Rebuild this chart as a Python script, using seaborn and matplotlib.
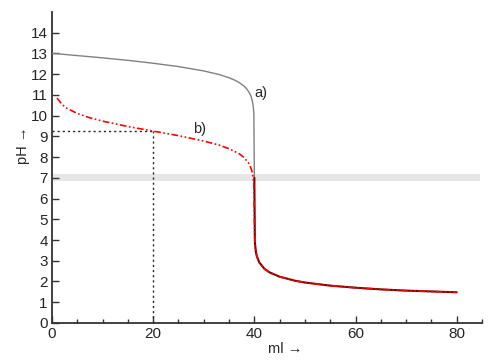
import numpy as np
import pandas as pd
import seaborn as sns
import matplotlib
matplotlib.use("Agg")
import matplotlib.pyplot as plt
from matplotlib.ticker import MultipleLocator

# a) strong base (ml, pH) up to the equivalence point
ml_a = [0, 5, 10, 15, 20, 25, 30, 33, 35, 36, 37, 38, 38.5, 39, 39.3, 39.5, 39.7, 39.8, 39.9, 40]
ph_a = [13.0, 12.89, 12.78, 12.66, 12.52, 12.36, 12.15, 11.98, 11.82, 11.72, 11.59, 11.41,
        11.28, 11.10, 10.95, 10.80, 10.58, 10.40, 10.10, 7.0]

# b) weak base, before the equivalence point
ml_b = [1, 2, 3, 5, 7.5, 10, 15, 20, 25, 30, 33, 35, 37, 38, 39, 39.5, 39.8, 39.9, 40]
ph_b = [10.84, 10.53, 10.34, 10.10, 9.89, 9.73, 9.47, 9.25, 9.03, 8.77, 8.58, 8.40, 8.16,
        7.97, 7.66, 7.35, 6.95, 6.65, 5.3]

# common part after the equivalence point
ml_tail = [40.1, 40.3, 40.5, 41, 42, 43, 45, 48, 50, 55, 60, 65, 70, 75, 80]
ph_tail = [3.90, 3.43, 3.21, 2.91, 2.61, 2.44, 2.23, 2.04, 1.95, 1.80, 1.70, 1.62, 1.56, 1.52, 1.48]

half_ml = 20
half_ph = 9.25
neutral_ph = 7

sns.set_style("ticks")
plt.rcParams["font.family"] = ["Liberation Sans", "DejaVu Sans"]

fig = plt.figure(figsize=(5, 3.61), dpi=100)
ax = fig.add_axes([0.104, 0.1053, 0.86, 0.862])

# neutral band
ax.fill_between([0, 84.6], neutral_ph - 0.17, neutral_ph + 0.17, color="#e6e6e6", lw=0, zorder=0)

# half-equivalence guide lines
ax.plot([0, half_ml], [half_ph, half_ph], color="#222222", lw=1, ls=(0, (1.5, 2.2)), zorder=1)
ax.plot([half_ml, half_ml], [0, half_ph], color="#222222", lw=1, ls=(0, (1.5, 2.2)), zorder=1)

df_a = pd.DataFrame({"ml": ml_a, "pH": ph_a})
df_tail = pd.DataFrame({"ml": [40] + ml_tail, "pH": [7.0] + ph_tail})
df_b = pd.DataFrame({"ml": ml_b + ml_tail, "pH": ph_b + ph_tail})

sns.lineplot(data=df_a, x="ml", y="pH", estimator=None, color="#808080", lw=1.0, ax=ax, zorder=3)
sns.lineplot(data=df_tail, x="ml", y="pH", estimator=None, color="#700000", lw=1.5, ax=ax, zorder=3)
sns.lineplot(data=df_b, x="ml", y="pH", estimator=None, color="#ff0000", lw=1.2, ax=ax, zorder=4)
ax.lines[-1].set_dashes([4, 1.5, 1, 1.5, 1, 1.5])

ax.text(40.0, 11.1, "a)", fontsize=10.5, va="center", ha="left")
ax.text(27.9, 9.37, "b)", fontsize=10.5, va="center", ha="left")

ax.set_xlim(0, 85)
ax.set_ylim(0, 15)
ax.xaxis.set_major_locator(MultipleLocator(20))
ax.xaxis.set_minor_locator(MultipleLocator(5))
ax.set_yticks(range(0, 15))
ax.tick_params(axis="both", which="major", direction="in", length=5, width=1, labelsize=11,
               color="#333333", pad=3)
ax.tick_params(axis="x", which="minor", direction="in", length=3, width=1, color="#333333")

sns.despine(ax=ax)
for side in ["left", "bottom"]:
    ax.spines[side].set_color("#333333")
    ax.spines[side].set_linewidth(1.3)

ax.set_xlabel("ml →", fontsize=10.5)
ax.set_ylabel("pH →", fontsize=10.5)
ax.xaxis.set_label_coords(0.542, -0.062)
ax.yaxis.set_label_coords(-0.051, 0.57)

fig.savefig("out.png", dpi=100)
